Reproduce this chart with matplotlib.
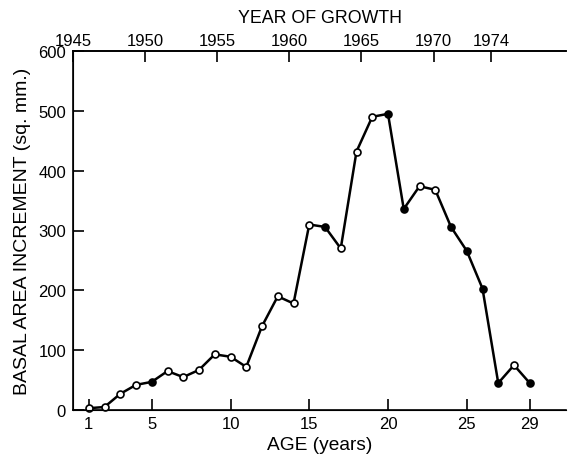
import matplotlib
matplotlib.use("Agg")
import matplotlib.pyplot as plt
import numpy as np

plt.rcParams['font.family'] = ['Liberation Sans', 'DejaVu Sans']

# Data
ages = [1, 2, 3, 4, 5, 6, 7, 8, 9, 10, 11, 12, 13, 14, 15,
        16, 17, 18, 19, 20, 21, 22, 23, 24, 25, 26, 27, 28, 29]
increment = [3, 5, 27, 42, 47, 65, 55, 67, 93, 89, 72, 140, 190, 178, 310,
             306, 270, 432, 490, 495, 336, 374, 368, 306, 266, 203, 45, 75, 45]
filled_ages = [5, 16, 20, 21, 24, 25, 26, 27, 29]

age_ticks = [1, 5, 10, 15, 20, 25, 29]
year_ticks = [1945, 1950, 1955, 1960, 1965, 1970, 1974]
y_ticks = [0, 100, 200, 300, 400, 500, 600]

fig = plt.figure(figsize=(5.71, 4.56), dpi=100)
ax = fig.add_axes([73/571, 1 - 411/456, (566-73)/571, (411-52)/456])

ax.plot(ages, increment, color='black', lw=1.8, zorder=2)
ages_a = np.array(ages)
inc_a = np.array(increment)
mask = np.isin(ages_a, filled_ages)
ax.plot(ages_a[~mask], inc_a[~mask], 'o', ms=5, mfc='white', mec='black', mew=1.2, zorder=3, clip_on=False)
ax.plot(ages_a[mask], inc_a[mask], 'o', ms=5, mfc='black', mec='black', mew=1.2, zorder=3, clip_on=False)

ax.set_xlim(0, 493/15.75)
ax.set_ylim(0, 600)
ax.set_xticks(age_ticks)
ax.set_yticks(y_ticks)
ax.tick_params(axis='both', direction='in', length=8, width=1.2, labelsize=12)
ax.tick_params(axis='x', pad=4)
ax.tick_params(axis='y', pad=5)
ax.spines['right'].set_visible(False)
for s in ['left', 'bottom', 'top']:
    ax.spines[s].set_linewidth(1.2)

ax.set_xlabel('AGE (years)', fontsize=13.8, labelpad=4)
ax.set_ylabel('BASAL AREA INCREMENT (sq. mm.)', fontsize=14, labelpad=5)

ax2 = ax.twiny()
ax2.set_xlim(1945, 1945 + 493/14.42)
ax2.set_xticks(year_ticks)
ax2.tick_params(axis='x', direction='in', length=8, width=1.2, labelsize=12, pad=2)
ax2.spines['right'].set_visible(False)
ax2.spines['top'].set_linewidth(1.2)
ax2.set_xlabel('YEAR OF GROWTH', fontsize=12.8, labelpad=8)

fig.savefig('out.png', dpi=100)
